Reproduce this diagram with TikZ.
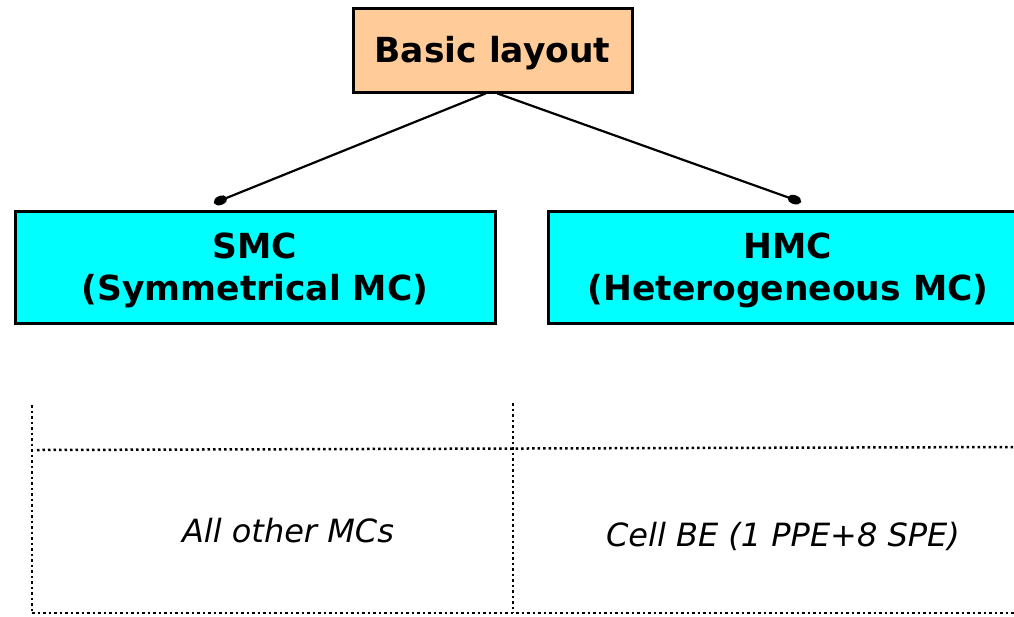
\documentclass[tikz,border=0pt]{standalone}
\usepackage{fontspec}
\setmainfont{DejaVu Sans}
\usetikzlibrary{arrows.meta}
\definecolor{peach}{HTML}{FFCC99}
\definecolor{aqua}{HTML}{00FFFF}
\tikzset{
  box/.style={draw=black, line width=3pt, inner sep=0pt, font=\bfseries\fontsize{34.5}{42}\selectfont},
  link/.style={line width=2.2pt, -{Ellipse[length=14pt,width=9pt]}},
  grid/.style={line width=2.5pt, dash pattern=on 2.5pt off 3pt},
  cell/.style={font=\itshape\fontsize{32}{38}\selectfont}
}
\newcommand{\lowered}[2]{\raisebox{0pt}[\dimexpr\height+#1\relax]{#2}}
\newcommand{\twolines}[2]{\lowered{8pt}{\begin{tabular}{@{}c@{}}#1\\#2\end{tabular}}}
\begin{document}
\begin{tikzpicture}[x=1pt,y=-1pt]
\useasboundingbox (0,0) rectangle (1014,616);
\node[box, fill=peach, minimum width=279pt, minimum height=84pt] (basic) at (492.5,50) {\lowered{6pt}{Basic layout}};
\node[box, fill=aqua, minimum width=480pt, minimum height=112pt] (smc) at (255,267) {\twolines{SMC}{(Symmetrical MC)}};
\node[box, fill=aqua, minimum width=480pt, minimum height=112pt] (hmc) at (788,267) {\twolines{HMC}{(Heterogeneous MC)}};
\coordinate (smcend) at (214,203);
\coordinate (hmcend) at (801,202);
\draw[link] ([xshift=-7pt]basic.south) -- (smcend);
\draw[link] ([xshift=5pt]basic.south) -- (hmcend);
\coordinate (gl) at (32,405);
\coordinate (gm) at (513,403);
\coordinate (bl) at (32,613);
\coordinate (bm) at (513,613);
\coordinate (hl) at (37,450);
\coordinate (hr) at (1014,447);
\coordinate (br) at (1014,613);
\draw[grid] (gl) -- (bl);
\draw[grid] (gm) -- (bm);
\draw[grid] (hl) -- (hr);
\draw[grid] (bl) -- (br);
\node[cell] (c1) at (288,531) {All other MCs};
\node[cell] (c2) at (783,536) {Cell BE (1 PPE+8 SPE)};
\end{tikzpicture}
\end{document}
